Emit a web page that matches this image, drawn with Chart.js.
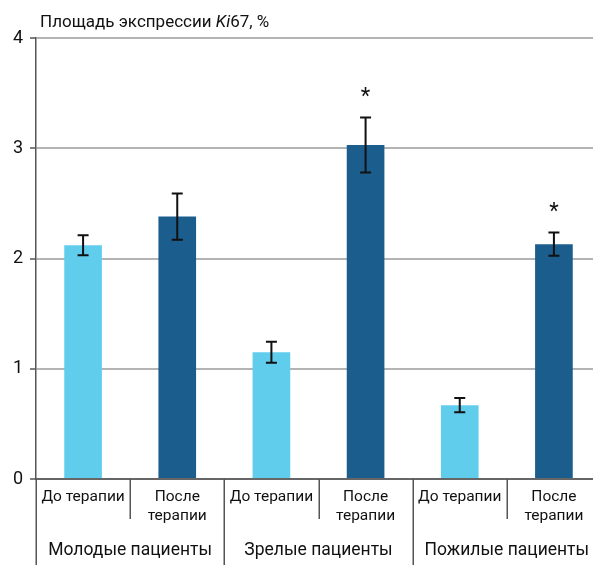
<!DOCTYPE html>
<html lang="ru">
<head>
<meta charset="utf-8">
<title>Площадь экспрессии Ki67</title>
<script src="https://cdn.jsdelivr.net/npm/chart.js@4/dist/chart.umd.min.js"></script>
<style>
  html, body { margin: 0; padding: 0; background: #fff; overflow: hidden; }
  #wrap { position: absolute; left: 0; top: 0; width: 602px; height: 565px; }
</style>
</head>
<body>
<div id="wrap"><canvas id="chart"></canvas></div>
<script>
// Bars: two per patient group (before / after therapy)
const groups = ['Молодые пациенты', 'Зрелые пациенты', 'Пожилые пациенты'];
const phases = [['До терапии'], ['После', 'терапии']];
const barLabels = ['Молодые — до', 'Молодые — после', 'Зрелые — до', 'Зрелые — после', 'Пожилые — до', 'Пожилые — после'];
const means = [2.12, 2.38, 1.15, 3.03, 0.67, 2.13];
const errors = [0.09, 0.21, 0.095, 0.25, 0.065, 0.105];
const significant = [false, false, false, true, false, true];
const yTicks = [0, 1, 2, 3, 4];

const LIGHT = '#61cdec';
const DARK = '#1b5e8e';
const FONT = 'Roboto, "DejaVu Sans", sans-serif';

const barColors = means.map((_, i) => (i % 2 === 0 ? LIGHT : DARK));

const overlay = {
  id: 'overlay',
  afterDatasetsDraw(chart) {
    const { ctx, scales: { x, y } } = chart;
    ctx.save();
    // error bars
    ctx.strokeStyle = '#111';
    ctx.lineWidth = 2;
    means.forEach((m, i) => {
      const cx = x.getPixelForValue(i);
      const top = y.getPixelForValue(m + errors[i]);
      const bot = y.getPixelForValue(m - errors[i]);
      ctx.beginPath();
      ctx.moveTo(cx, top); ctx.lineTo(cx, bot);
      ctx.moveTo(cx - 5.5, top); ctx.lineTo(cx + 5.5, top);
      ctx.moveTo(cx - 5.5, bot); ctx.lineTo(cx + 5.5, bot);
      ctx.stroke();
      if (significant[i]) {
        ctx.fillStyle = '#111';
        ctx.font = '22px ' + FONT;
        ctx.textAlign = 'center';
        ctx.textBaseline = 'middle';
        ctx.fillText('*', cx, top - 20);
      }
    });
    ctx.restore();
  },
  afterDraw(chart) {
    const { ctx, chartArea, scales: { x } } = chart;
    const bottom = chartArea.bottom;
    const step = x.getPixelForValue(1) - x.getPixelForValue(0);
    ctx.save();
    // axis title with italic gene name
    ctx.fillStyle = '#111';
    ctx.textBaseline = 'alphabetic';
    ctx.textAlign = 'left';
    let tx = 40;
    const parts = [['Площадь экспрессии ', ''], ['Ki', 'italic '], ['67, %', '']];
    parts.forEach(([t, style]) => {
      ctx.font = style + '17px ' + FONT;
      ctx.fillText(t, tx, 27);
      tx += ctx.measureText(t).width;
    });

    // category labels
    ctx.textAlign = 'center';
    means.forEach((_, i) => {
      const cx = x.getPixelForValue(i);
      const lines = phases[i % 2];
      ctx.font = '15.5px ' + FONT;
      lines.forEach((ln, k) => ctx.fillText(ln, cx, 501 + k * 19));
    });
    // group labels
    ctx.font = '17.5px ' + FONT;
    groups.forEach((g, gi) => {
      const cx = (x.getPixelForValue(gi * 2) + x.getPixelForValue(gi * 2 + 1)) / 2;
      ctx.fillText(g, cx, 555);
    });

    // separators
    ctx.strokeStyle = '#555';
    ctx.lineWidth = 1.5;
    for (let i = 0; i <= means.length; i++) {
      const sx = Math.round(x.getPixelForValue(0) - step / 2 + i * step) + 0.25;
      const isGroup = i % 2 === 0;
      ctx.beginPath();
      ctx.moveTo(sx, bottom);
      ctx.lineTo(sx, isGroup ? 565 : 519);
      ctx.stroke();
    }
    ctx.restore();
  }
};

new Chart(document.getElementById('chart'), {
  type: 'bar',
  data: {
    labels: barLabels,
    datasets: [{
      data: means,
      backgroundColor: barColors,
      borderWidth: 0,
      barPercentage: 0.4,
      categoryPercentage: 1
    }]
  },
  options: {
    responsive: true,
    maintainAspectRatio: false,
    animation: false,
    layout: { padding: { top: 38, right: 1, left: 0, bottom: 0 } },
    plugins: { legend: { display: false }, tooltip: { enabled: false } },
    scales: {
      x: {
        grid: { display: false },
        border: { color: '#666', width: 2 },
        ticks: { display: false },
        afterFit(scale) { scale.height = 86; }
      },
      y: {
        min: yTicks[0],
        max: yTicks[yTicks.length - 1],
        afterBuildTicks(scale) { scale.ticks = yTicks.map(v => ({ value: v })); },
        grid: { color: '#b4b4b4', lineWidth: 2, tickLength: 6, tickColor: '#555', tickWidth: 1.5 },
        border: { color: '#555', width: 1.5 },
        ticks: { color: '#111', font: { family: FONT, size: 18 }, padding: 7 },
        afterFit(scale) { scale.width = 36; }
      }
    }
  },
  plugins: [overlay]
});
</script>
</body>
</html>
